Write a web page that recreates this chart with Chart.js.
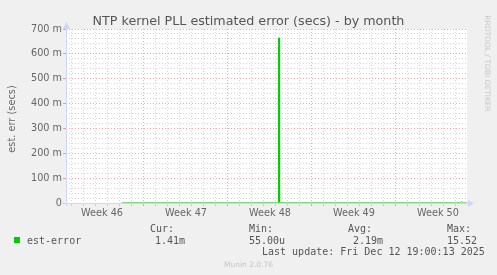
<!DOCTYPE html>
<html>
<head>
<meta charset="utf-8">
<script src="https://cdn.jsdelivr.net/npm/chart.js@4.4.1/dist/chart.umd.min.js"></script>
<style>
  html, body { margin: 0; padding: 0; background: #f0f0f0; }
  #wrap { width: 497px; height: 275px; }
</style>
</head>
<body>
<div id="wrap"><canvas id="ntpChart" width="497" height="275"></canvas></div>
<script>
// x = days since Mon 10 Nov 2025 00:00, y = estimated error in seconds
const sampleDays = [5.17, 6, 7, 8, 9, 10, 11, 12, 13, 14, 15, 16, 17,
    18.2, 18.208, 18.292, 18.3,
    19, 20, 21, 22, 23, 24, 25, 26, 27, 28, 29, 30, 31, 32, 33,
    33.38, 33.47, 33.56, 33.92];
const estError = [0.0021, 0.0019, 0.0023, 0.0018, 0.0020, 0.0022, 0.0017, 0.0019, 0.0021, 0.0018, 0.0020, 0.0023, 0.0019,
    0.0020, 0.664, 0.664, 0.0021,
    0.0019, 0.0018, 0.0020, 0.0022, 0.0017, 0.0019, 0.0021, 0.0018, 0.0020, 0.0019, 0.0022, 0.0018, 0.0020, 0.0019, 0.0017,
    0.0016, 0.0060, 0.0016, 0.00141];

const weekLabels = ['Week 46', 'Week 47', 'Week 48', 'Week 49', 'Week 50'];
const weekMids = [3.5, 10.5, 17.5, 24.5, 31.5];
const yTickLabels = ['0', '100 m', '200 m', '300 m', '400 m', '500 m', '600 m', '700 m'];

const legendHeads = ['Cur:', 'Min:', 'Avg:', 'Max:'];
const legendValues = ['1.41m', '55.00u', '2.19m', '15.52'];

const MAJOR = 'rgba(230, 80, 80, 0.5)';
const MINOR = 'rgba(150, 150, 150, 0.4)';
const AXIS = '#cfd6f8';

Chart.defaults.font.family = 'DejaVu Sans';

const muninDecor = {
    id: 'muninDecor',
    beforeDraw(chart) {
        const { ctx, chartArea: a } = chart;
        ctx.save();
        ctx.fillStyle = '#f0f0f0';
        ctx.fillRect(0, 0, chart.width, chart.height);
        ctx.fillStyle = '#ffffff';
        ctx.fillRect(a.left, a.top, a.right - a.left, a.bottom - a.top);
        ctx.restore();
    },
    beforeDatasetsDraw(chart) {
        const { ctx, chartArea: a } = chart;
        ctx.save();
        ctx.strokeStyle = AXIS;
        ctx.fillStyle = AXIS;
        ctx.lineWidth = 1;
        // x axis + arrow
        ctx.beginPath();
        ctx.moveTo(a.left - 2, a.bottom + 0.5);
        ctx.lineTo(a.right + 2, a.bottom + 0.5);
        ctx.stroke();
        ctx.beginPath();
        ctx.moveTo(a.right + 1, a.bottom - 3);
        ctx.lineTo(a.right + 7, a.bottom + 0.5);
        ctx.lineTo(a.right + 1, a.bottom + 4);
        ctx.fill();
        // y axis + arrow
        ctx.beginPath();
        ctx.moveTo(a.left + 0.5, a.bottom + 3);
        ctx.lineTo(a.left + 0.5, a.top - 2);
        ctx.stroke();
        ctx.beginPath();
        ctx.moveTo(a.left - 3, a.top);
        ctx.lineTo(a.left + 0.5, a.top - 7);
        ctx.lineTo(a.left + 4, a.top);
        ctx.fill();
        ctx.restore();
    },
    afterDraw(chart) {
        const ctx = chart.ctx;
        ctx.save();
        ctx.fillStyle = '#555';
        ctx.textAlign = 'center';
        ctx.textBaseline = 'alphabetic';
        ctx.font = '12.7px "DejaVu Sans"';
        ctx.fillText('NTP kernel PLL estimated error (secs) - by month', 248.5, 24.5);

        // y axis title
        ctx.save();
        ctx.translate(15, 119);
        ctx.rotate(-Math.PI / 2);
        ctx.fillStyle = '#666';
        ctx.font = '9.8px "DejaVu Sans"';
        ctx.fillText('est. err (secs)', 0, 0);
        ctx.restore();

        // rrdtool watermark
        ctx.save();
        ctx.translate(485, 63.5);
        ctx.rotate(Math.PI / 2);
        ctx.fillStyle = '#c8c8c8';
        ctx.font = '7.5px "DejaVu Sans"';
        ctx.fillText('RRDTOOL / TOBI OETIKER', 0, 0);
        ctx.restore();

        // legend
        ctx.fillStyle = '#00cc00';
        ctx.fillRect(14, 237, 6, 6);
        ctx.fillStyle = '#555';
        ctx.textAlign = 'left';
        ctx.font = '10px "DejaVu Sans Mono"';
        ctx.fillText('est-error', 27, 243.5);
        const headX = [150, 249, 348, 447];
        const valX = [155, 249, 353, 447];
        legendHeads.forEach((h, i) => ctx.fillText(h, headX[i], 231.5));
        legendValues.forEach((v, i) => ctx.fillText(v, valX[i], 243.5));
        ctx.fillText('Last update: Fri Dec 12 19:00:13 2025', 262, 255);

        ctx.fillStyle = '#c4c4c4';
        ctx.font = '7.5px "DejaVu Sans"';
        ctx.fillText('Munin 2.0.76', 224, 266.8);
        ctx.restore();
    }
};

const ctxNtp = document.getElementById('ntpChart').getContext('2d');
const ntpChart = new Chart(ctxNtp, {
    type: 'line',
    data: {
        datasets: [{
            label: 'est-error',
            data: sampleDays.map((d, i) => ({ x: d, y: estError[i] })),
            borderColor: '#00cc00',
            borderWidth: 1,
            pointRadius: 0,
            fill: false,
            tension: 0,
            // the near-zero run sits on the axis row, so it looks paler in the original
            segment: {
                borderColor: (s) => (s.p0.parsed.y < 0.005 && s.p1.parsed.y < 0.005) ? '#7fd67f' : '#00cc00'
            }
        }]
    },
    options: {
        responsive: false,
        animation: false,
        devicePixelRatio: 1,
        layout: { padding: { left: 0, top: 29, right: 30, bottom: 52 } },
        plugins: {
            legend: { display: false },
            title: { display: false },
            tooltip: { enabled: false }
        },
        scales: {
            x: {
                type: 'linear',
                min: 0.5,
                max: 33.92,
                afterFit: (scale) => { scale.height = 20; },
                afterBuildTicks: (scale) => {
                    const t = [];
                    for (let d = 1; d <= 33; d++) t.push({ value: d });
                    weekMids.forEach(v => t.push({ value: v }));
                    t.sort((p, q) => p.value - q.value);
                    scale.ticks = t;
                },
                ticks: {
                    autoSkip: false,
                    maxRotation: 0,
                    padding: 2,
                    color: '#666',
                    font: { size: 9.7 },
                    callback: (value) => {
                        const i = weekMids.indexOf(value);
                        return i >= 0 ? weekLabels[i] : '';
                    }
                },
                grid: {
                    tickLength: 3,
                    color: (c) => {
                        const v = c.tick ? c.tick.value : 0;
                        if (!Number.isInteger(v)) return 'rgba(0,0,0,0)';
                        return v % 7 === 0 ? MAJOR : MINOR;
                    },
                    tickColor: (c) => {
                        const v = c.tick ? c.tick.value : 0;
                        if (!Number.isInteger(v)) return 'rgba(0,0,0,0)';
                        return v % 7 === 0 ? MAJOR : MINOR;
                    }
                },
                border: { display: false, dash: [1, 2] }
            },
            y: {
                min: 0,
                max: 0.7,
                afterFit: (scale) => { scale.width = 66; },
                afterBuildTicks: (scale) => {
                    const t = [];
                    for (let i = 0; i <= 35; i++) t.push({ value: i / 50 });
                    scale.ticks = t;
                },
                ticks: {
                    autoSkip: false,
                    padding: 1,
                    color: '#666',
                    font: { size: 9.7 },
                    callback: (value, index) => index % 5 === 0 ? yTickLabels[index / 5] : ''
                },
                grid: {
                    tickLength: 3,
                    color: (c) => {
                        if (c.index === 0) return 'rgba(0,0,0,0)';
                        return c.index % 5 === 0 ? MAJOR : MINOR;
                    },
                    tickColor: (c) => c.index % 5 === 0 ? MAJOR : 'rgba(0,0,0,0)'
                },
                border: { display: false, dash: [1, 2] }
            }
        }
    },
    plugins: [muninDecor]
});
</script>
</body>
</html>
